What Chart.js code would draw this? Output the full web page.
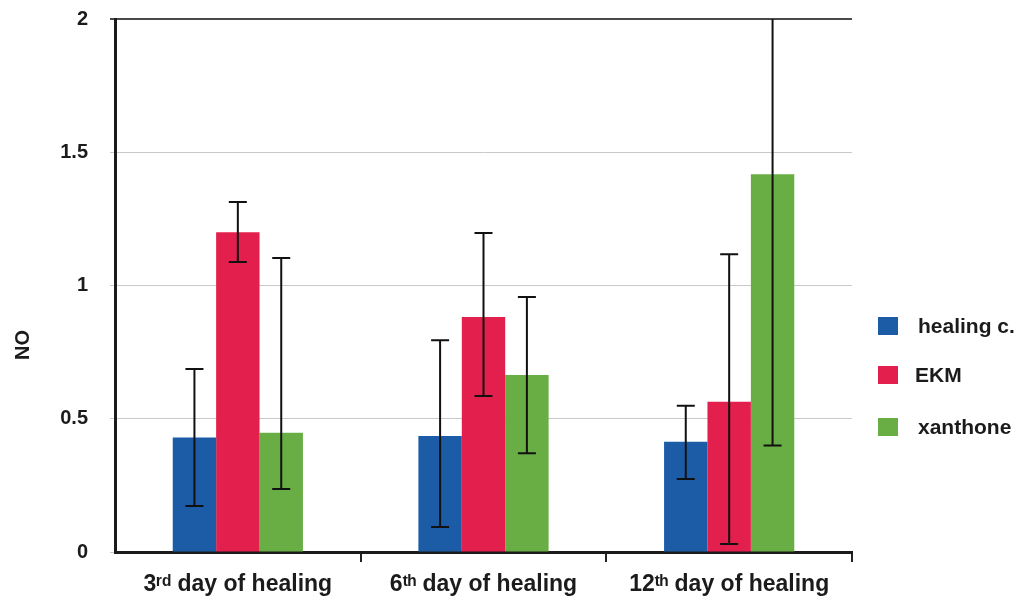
<!DOCTYPE html>
<html>
<head>
<meta charset="utf-8">
<script src="https://cdn.jsdelivr.net/npm/chart.js@4"></script>
<style>
  html, body { margin: 0; padding: 0; background: #fff; }
  #wrap { width: 1018px; height: 600px; }
</style>
</head>
<body>
<div id="wrap"><canvas id="chart" width="1018" height="600"></canvas></div>
<script>
// --- datos ---
const categories = ["3ʳᵈ day of healing", "6ᵗʰ day of healing", "12ᵗʰ day of healing"];
const seriesNames = ["healing c.", "EKM", "xanthone"];
const seriesColors = ["#1C5CA6", "#E31F4D", "#68AE45"];

const healingC = [0.43, 0.435, 0.414];
const ekm      = [1.20, 0.882, 0.564];
const xanthone = [0.447, 0.664, 1.417];

// barras de error (límite superior / inferior)
const healingCHigh = [0.687, 0.795, 0.549];
const healingCLow  = [0.173, 0.094, 0.274];
const ekmHigh      = [1.313, 1.197, 1.117];
const ekmLow       = [1.088, 0.585, 0.030];
const xanthoneHigh = [1.103, 0.957, 2.43];
const xanthoneLow  = [0.236, 0.371, 0.400];

const yTicks = [0, 0.5, 1, 1.5, 2];

const FONT = "'Liberation Sans', Arial, sans-serif";
const TEXT = "#1b1b1b";

const values = [healingC, ekm, xanthone];
const highs = [healingCHigh, ekmHigh, xanthoneHigh];
const lows = [healingCLow, ekmLow, xanthoneLow];

// barras de error dibujadas sobre cada barra, recortadas al área del gráfico
const errorBars = {
  id: "errorBars",
  afterDatasetsDraw(chart) {
    const { ctx, chartArea, scales: { y } } = chart;
    ctx.save();
    ctx.strokeStyle = "#111";
    ctx.lineWidth = 2;
    chart.data.datasets.forEach((ds, i) => {
      const meta = chart.getDatasetMeta(i);
      meta.data.forEach((bar, j) => {
        const hi = ds.errHigh[j], lo = ds.errLow[j];
        const yHi = Math.max(y.getPixelForValue(hi), chartArea.top);
        const yLo = Math.min(y.getPixelForValue(lo), chartArea.bottom);
        const cap = 9;
        ctx.beginPath();
        ctx.moveTo(bar.x, yHi);
        ctx.lineTo(bar.x, yLo);
        if (hi <= y.max) { ctx.moveTo(bar.x - cap, yHi); ctx.lineTo(bar.x + cap, yHi); }
        ctx.moveTo(bar.x - cap, yLo); ctx.lineTo(bar.x + cap, yLo);
        ctx.stroke();
      });
    });
    ctx.restore();
  }
};

// leyenda a la derecha y título del eje Y
const sideText = {
  id: "sideText",
  afterDraw(chart) {
    const { ctx } = chart;
    ctx.save();
    ctx.fillStyle = TEXT;
    ctx.font = "bold 21px " + FONT;
    ctx.textBaseline = "middle";
    const rows = [326, 375, 427];
    chart.data.datasets.forEach((ds, i) => {
      ctx.fillStyle = ds.backgroundColor;
      ctx.fillRect(878, rows[i] - 9, 20, 18);
      ctx.fillStyle = TEXT;
      ctx.fillText(ds.label, i === 1 ? 915 : 918, rows[i] + 1);
    });
    ctx.translate(23, 345);
    ctx.rotate(-Math.PI / 2);
    ctx.textAlign = "center";
    ctx.font = "bold 20px " + FONT;
    ctx.fillText("NO", 0, 0);
    ctx.restore();
  }
};

new Chart(document.getElementById("chart"), {
  type: "bar",
  data: {
    labels: categories,
    datasets: seriesNames.map((name, i) => ({
      label: name,
      data: values[i],
      errHigh: highs[i],
      errLow: lows[i],
      backgroundColor: seriesColors[i],
      borderWidth: 0,
      categoryPercentage: 0.53,
      barPercentage: 1.0
    }))
  },
  options: {
    responsive: false,
    animation: false,
    layout: { padding: { top: 19, right: 166, left: 0, bottom: 0 } },
    plugins: { legend: { display: false }, tooltip: { enabled: false } },
    scales: {
      x: {
        afterFit: s => { s.height = 48; },
        grid: {
          offset: true,
          drawOnChartArea: false,
          drawTicks: true,
          tickLength: 10,
          lineWidth: 2,
          color: c => c.index === 0 ? "rgba(0,0,0,0)" : "#222"
        },
        border: { color: "#1b1b1b", width: 3 },
        ticks: { color: TEXT, font: { family: FONT, size: 23, weight: "bold" }, padding: 9 }
      },
      y: {
        min: 0, max: 2,
        afterFit: s => { s.width = 115; s.paddingTop = 0; s.paddingBottom = 0; },
        afterBuildTicks: s => { s.ticks = yTicks.map(v => ({ value: v })); },
        grid: {
          color: c => c.tick && c.tick.value === 2 ? "#4a4a4a" : "#c9c9c9",
          lineWidth: c => c.tick && c.tick.value === 2 ? 2 : 1,
          tickLength: 5
        },
        border: { color: "#1b1b1b", width: 3 },
        ticks: {
          color: TEXT, font: { family: FONT, size: 20, weight: "bold" }, padding: 22,
          callback: v => String(v)
        }
      }
    }
  },
  plugins: [errorBars, sideText]
});
</script>
</body>
</html>
